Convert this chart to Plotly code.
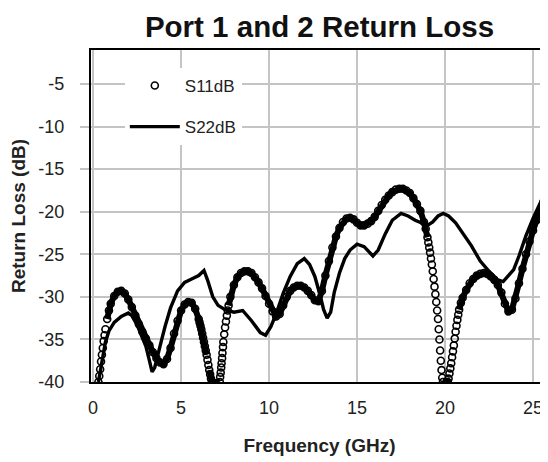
import plotly.graph_objects as go

# S11 (dB)
s11_freq = [0.3, 0.35, 0.4, 0.45, 0.5, 0.55, 0.6, 0.65, 0.7, 0.8, 0.9, 1.0, 1.2, 1.4, 1.6, 1.8, 2.0,
            2.2, 2.4, 2.6, 2.8, 3.0, 3.2, 3.4, 3.6, 3.8, 4.0, 4.2, 4.4, 4.6, 4.8, 5.0, 5.2, 5.4, 5.6,
            5.8, 6.0, 6.05, 6.1, 6.15, 6.2, 6.25, 6.3, 6.35, 6.4, 6.45, 6.5, 6.55, 6.6, 6.65, 6.7,
            6.75, 7.2, 7.22, 7.25, 7.28, 7.3, 7.33, 7.35, 7.38, 7.4, 7.45, 7.5, 7.55, 7.6, 7.65, 7.7,
            7.8, 8.0, 8.2, 8.4, 8.6, 8.8, 9.0, 9.2, 9.4, 9.6, 9.8, 10.0, 10.2, 10.4, 10.6, 10.8, 11.0,
            11.2, 11.4, 11.6, 11.8, 12.0, 12.2, 12.4, 12.6, 12.8, 13.0, 13.2, 13.4, 13.6, 13.8, 14.0,
            14.2, 14.4, 14.6, 14.8, 15.0, 15.2, 15.4, 15.6, 15.8, 16.0, 16.2, 16.4, 16.6, 16.8, 17.0,
            17.2, 17.4, 17.6, 17.8, 18.0, 18.2, 18.4, 18.6, 18.8, 18.9, 19.0, 19.05, 19.1, 19.15, 19.2,
            19.25, 19.3, 19.35, 19.4, 19.45, 19.5, 19.55, 19.6, 19.64, 19.68, 19.72, 19.76, 19.8,
            19.84, 19.88, 20.15, 20.2, 20.25, 20.3, 20.35, 20.4, 20.45, 20.5, 20.55, 20.6, 20.65,
            20.7, 20.75, 20.8, 20.9, 21.0, 21.2, 21.4, 21.6, 21.8, 22.0, 22.2, 22.4, 22.6, 22.8, 23.0,
            23.2, 23.4, 23.6, 23.8, 24.0, 24.2, 24.4, 24.6, 24.8, 25.0, 25.2, 25.4, 25.6, 25.8, 26.0]
s11_db = [-40.0, -39.3, -38.5, -37.6, -36.8, -36.0, -35.2, -34.5, -33.8, -32.6, -31.6, -30.8, -29.9,
          -29.4, -29.3, -29.6, -30.3, -31.2, -32.2, -33.2, -34.1, -34.9, -35.7, -36.5, -37.2, -37.7,
          -37.9, -37.3, -36.0, -34.3, -32.8, -31.6, -30.9, -30.6, -30.7, -31.4, -32.6, -33.0, -33.4,
          -33.8, -34.3, -34.8, -35.3, -35.8, -36.3, -36.8, -37.4, -38.0, -38.6, -39.1, -39.6, -40.0,
          -40.0, -39.4, -38.9, -38.3, -37.8, -37.2, -36.6, -35.9, -35.3, -34.4, -33.6, -32.9, -32.2,
          -31.6, -31.0, -30.0, -28.6, -27.7, -27.2, -27.0, -27.0, -27.2, -27.7, -28.3, -29.0, -29.9,
          -30.8, -31.7, -32.3, -32.0, -31.0, -30.0, -29.3, -28.9, -28.7, -28.7, -28.9, -29.3, -29.8,
          -30.4, -30.5, -29.3, -27.5, -25.8, -24.2, -22.9, -21.9, -21.2, -20.8, -20.7, -20.9, -21.3,
          -21.6, -21.6, -21.4, -21.1, -20.6, -19.9, -19.2, -18.6, -18.1, -17.7, -17.4, -17.3, -17.3,
          -17.5, -17.8, -18.4, -19.1, -19.9, -21.2, -22.0, -23.0, -23.6, -24.2, -24.8, -25.5, -26.2,
          -27.0, -27.9, -28.8, -29.7, -30.6, -31.6, -32.6, -33.8, -35.0, -36.3, -37.5, -38.6, -39.5,
          -40.0, -40.0, -39.6, -39.0, -38.4, -37.8, -37.1, -36.4, -35.7, -34.9, -34.1, -33.4, -32.7,
          -32.1, -31.5, -30.7, -30.1, -29.2, -28.4, -27.9, -27.5, -27.3, -27.2, -27.3, -27.6, -28.0,
          -28.6, -29.5, -30.8, -31.7, -31.5, -30.2, -28.4, -26.7, -25.0, -23.5, -22.2, -21.0, -19.9,
          -18.8, -17.8, -17.0]

# S22 (dB)
s22_freq = [0.3, 0.5, 0.7, 0.9, 1.2, 1.6, 2.0, 2.2, 2.5, 2.8, 3.0, 3.2, 3.35, 3.5, 3.7, 3.9, 4.1, 4.4,
            4.8, 5.2, 5.6, 6.0, 6.3, 6.5, 6.8, 7.1, 7.5, 8.0, 8.5, 9.0, 9.5, 9.8, 10.1, 10.4, 10.8,
            11.2, 11.6, 12.0, 12.3, 12.6, 12.9, 13.1, 13.3, 13.5, 13.7, 14.0, 14.3, 14.6, 15.0, 15.4,
            15.9, 16.2, 16.6, 17.0, 17.5, 17.9, 18.3, 18.7, 19.0, 19.3, 19.6, 19.9, 20.2, 20.6, 21.0,
            21.5, 22.0, 22.5, 23.0, 23.3, 23.6, 23.9, 24.2, 24.6, 25.0, 25.4, 25.8, 26.0]
s22_db = [-40.0, -37.5, -35.3, -34.0, -33.0, -32.3, -31.9, -32.2, -33.3, -34.8, -35.8, -37.5, -38.8,
          -38.3, -36.8, -35.0, -33.4, -31.3, -29.3, -28.3, -27.9, -27.5, -26.9, -28.0, -30.0, -31.0,
          -31.5, -31.8, -31.6, -32.8, -34.2, -34.5, -33.5, -32.0, -29.6, -27.6, -26.1, -25.5, -26.2,
          -27.6, -29.8, -31.5, -32.5, -31.8, -29.5, -27.2, -25.5, -24.5, -23.8, -24.1, -25.2, -24.5,
          -22.6, -21.0, -20.2, -20.5, -21.0, -21.3, -21.6, -21.2, -20.5, -20.2, -20.5, -21.3, -22.5,
          -24.0, -25.8, -27.0, -28.0, -28.2, -27.5, -26.8, -25.2, -22.8, -20.8, -19.0, -17.5, -17.0]

x_ticks = [0, 5, 10, 15, 20, 25]
y_ticks = [-5, -10, -15, -20, -25, -30, -35, -40]

FONT = "Liberation Sans, Arial, sans-serif"

# Dense measured points overlap into a solid band except where the curve is steep;
# reproduce the band with a thick line that is broken on steep segments.
STEEP = 10.5  # dB per GHz
band_x, band_y = [], []
for i in range(len(s11_freq)):
    band_x.append(s11_freq[i])
    band_y.append(s11_db[i])
    if i + 1 < len(s11_freq):
        slope = abs(s11_db[i + 1] - s11_db[i]) / (s11_freq[i + 1] - s11_freq[i])
        if slope > STEEP:
            band_x.append(None)
            band_y.append(None)

fig = go.Figure()
fig.add_trace(go.Scatter(
    x=band_x, y=band_y, mode="lines", showlegend=False, hoverinfo="skip",
    line=dict(color="black", width=6),
))
fig.add_trace(go.Scatter(
    x=s11_freq, y=s11_db, name="S11dB", mode="markers", legendgroup="a",
    marker=dict(symbol="circle-open", size=7, color="black", line=dict(width=1.6, color="black")),
))
fig.add_trace(go.Scatter(
    x=s22_freq, y=s22_db, name="S22dB", mode="lines", legendgroup="b",
    line=dict(color="black", width=3.4),
))

fig.update_layout(
    width=540, height=454,
    margin=dict(l=83, r=0, t=42, b=80),
    paper_bgcolor="white", plot_bgcolor="white",
    font=dict(family=FONT, size=18, color="#222"),
    title=dict(text="<b>Port 1 and 2 Return Loss</b>", x=0.5, xref="paper", xanchor="center",
               y=0.958, yref="container", yanchor="middle",
               font=dict(size=29.5, family=FONT, color="#111")),
    showlegend=True,
    legend=dict(x=0.074, y=0.946, xanchor="left", yanchor="top", bgcolor="white",
                font=dict(size=17, family=FONT, color="#222"), tracegroupgap=16, itemwidth=50),
)
fig.update_xaxes(
    range=[-0.12, 25.85], tickvals=x_ticks, ticktext=[str(v) for v in x_ticks],
    showgrid=True, gridcolor="#c4c4c4", gridwidth=2,
    showline=True, linecolor="black", linewidth=2.2, mirror=True,
    ticks="", ticklabelstandoff=8, zeroline=False,
    tickfont=dict(size=18),
    title=dict(text="<b>Frequency (GHz)</b>", standoff=22, font=dict(size=19, family=FONT)),
)
fig.update_yaxes(
    range=[-40, -1], tickvals=y_ticks, ticktext=[str(v) for v in y_ticks],
    showgrid=True, gridcolor="#c4c4c4", gridwidth=2,
    showline=True, linecolor="black", linewidth=2.2,
    ticks="outside", ticklen=9, tickcolor="#c4c4c4", tickwidth=2, ticklabelstandoff=12,
    zeroline=False, tickfont=dict(size=18),
    title=dict(text="<b>Return Loss (dB)</b>", standoff=10, font=dict(size=19, family=FONT)),
)

fig.write_html("out.html")
